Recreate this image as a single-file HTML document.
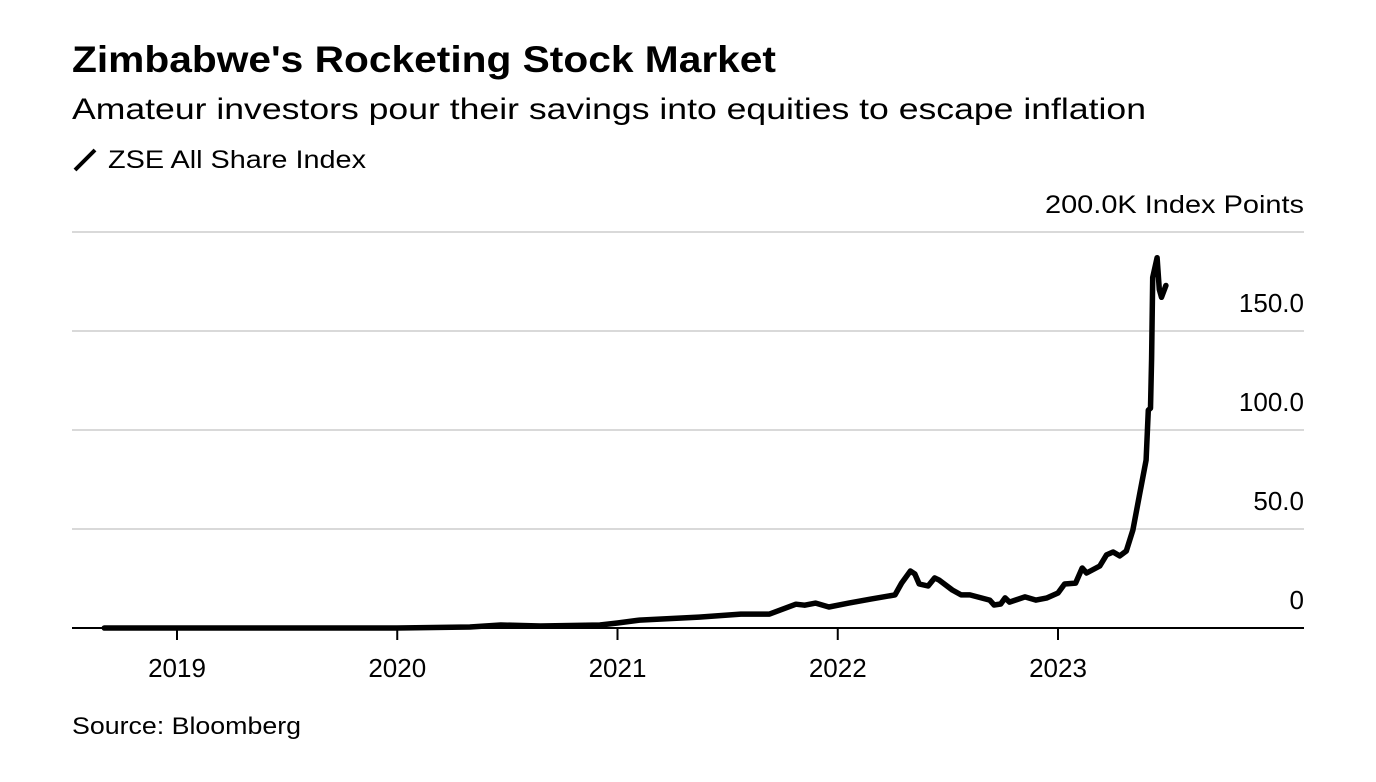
<!DOCTYPE html>
<html><head><meta charset="utf-8"><style>
body{margin:0;background:#fff;width:1376px;height:782px;overflow:hidden;font-family:"Liberation Sans",sans-serif}
svg{position:absolute;left:0;top:0}
</style></head><body>
<svg id="c" width="1376" height="782">
<text x="72" y="72" font-size="37" font-weight="bold" fill="#000" textLength="704" lengthAdjust="spacingAndGlyphs">Zimbabwe's Rocketing Stock Market</text>
<text x="72" y="119" font-size="30" fill="#000" textLength="1074" lengthAdjust="spacingAndGlyphs">Amateur investors pour their savings into equities to escape inflation</text>
<line x1="75" y1="170" x2="95" y2="150" stroke="#000" stroke-width="4"/>
<text x="108" y="168" font-size="25" fill="#000" textLength="258" lengthAdjust="spacingAndGlyphs">ZSE All Share Index</text>
<text x="1304" y="213" font-size="25" text-anchor="end" fill="#000" textLength="259" lengthAdjust="spacingAndGlyphs">200.0K Index Points</text>
<text x="72" y="734" font-size="24" fill="#000" textLength="229" lengthAdjust="spacingAndGlyphs">Source: Bloomberg</text>
<g id="grid"></g><g id="xax"></g><g id="series"></g>
</svg>
<script>
const yTicks=[0,50,100,150,200];
const yTickLabels=["0","50.0","100.0","150.0",""];
const xTicks=[2019,2020,2021,2022,2023];
const dates=[2018.67,2019.0,2019.56,2020.0,2020.33,2020.47,2020.65,2020.92,2021.0,2021.10,2021.19,2021.37,2021.56,2021.69,2021.81,2021.85,2021.90,2021.96,2022.05,2022.10,2022.15,2022.26,2022.29,2022.33,2022.35,2022.37,2022.41,2022.44,2022.46,2022.52,2022.56,2022.60,2022.69,2022.71,2022.74,2022.76,2022.78,2022.85,2022.90,2022.95,2023.00,2023.03,2023.08,2023.11,2023.13,2023.19,2023.22,2023.25,2023.28,2023.31,2023.34,2023.37,2023.40,2023.41,2023.42,2023.425,2023.43,2023.45,2023.46,2023.47,2023.49];
const values=[0,0,0,0,0.5,1.5,1,1.5,2.5,4,4.5,5.5,7,7,12,11.5,12.6,10.6,12.6,13.6,14.6,16.7,22.7,28.8,27.3,22.2,21.2,25.3,24.2,19.2,16.7,16.7,14.1,11.6,12.1,15.2,13.1,15.7,14.1,15.2,17.7,22.2,22.7,30.3,27.8,31.3,36.9,38.4,36.4,38.9,49.5,67.2,84.8,110,111,136,177,187,171,167,173];
const NS="http://www.w3.org/2000/svg";
const X=d=>177+(d-2019)*220.25;
const Y=v=>628-v*1.98;
const grid=document.getElementById('grid'),xax=document.getElementById('xax'),ser=document.getElementById('series');
yTicks.forEach((t,i)=>{
 if(t>0){const l=document.createElementNS(NS,'line');
 l.setAttribute('x1',72);l.setAttribute('x2',1304);l.setAttribute('y1',Y(t));l.setAttribute('y2',Y(t));
 l.setAttribute('stroke','#d9d9d9');l.setAttribute('stroke-width',2);
 
 
 grid.appendChild(l);}
 if(yTickLabels[i]){const tx=document.createElementNS(NS,'text');
 tx.setAttribute('x',1304);tx.setAttribute('y',Y(t)-19);tx.setAttribute('text-anchor','end');tx.setAttribute('font-size',26);
 tx.textContent=yTickLabels[i];
 
 
 grid.appendChild(tx);}
});
const ax=document.createElementNS(NS,'line');
ax.setAttribute('x1',72);ax.setAttribute('x2',1304);ax.setAttribute('y1',628);ax.setAttribute('y2',628);ax.setAttribute('stroke','#000');ax.setAttribute('stroke-width',2);


xax.appendChild(ax);
xTicks.forEach(t=>{
 const l=document.createElementNS(NS,'line');
 l.setAttribute('x1',X(t));l.setAttribute('x2',X(t));l.setAttribute('y1',628);l.setAttribute('y2',640);l.setAttribute('stroke','#000');l.setAttribute('stroke-width',2);
 
 
 xax.appendChild(l);
 const tx=document.createElementNS(NS,'text');
 tx.setAttribute('x',X(t));tx.setAttribute('y',677);tx.setAttribute('text-anchor','middle');tx.setAttribute('font-size',26);
 tx.textContent=t;
 
 
 xax.appendChild(tx);
});
const p=document.createElementNS(NS,'path');
p.setAttribute('d',dates.map((d,i)=>(i?'L':'M')+X(d).toFixed(1)+','+Y(values[i]).toFixed(1)).join(''));
p.setAttribute('fill','none');p.setAttribute('stroke','#000');p.setAttribute('stroke-width',5.5);p.setAttribute('stroke-linejoin','round');p.setAttribute('stroke-linecap','round');


ser.appendChild(p);
</script>
</body></html>
